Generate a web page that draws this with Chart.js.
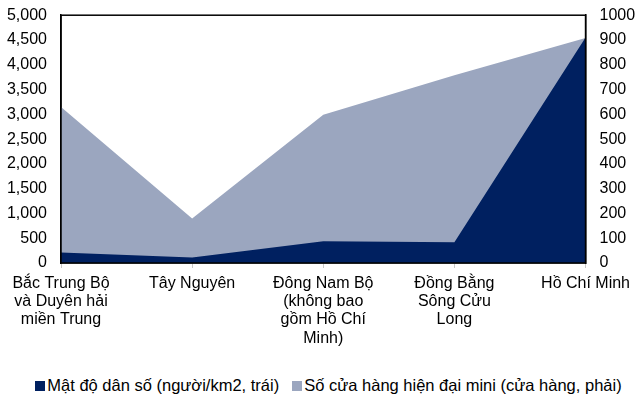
<!DOCTYPE html>
<html>
<head>
<meta charset="utf-8">
<script src="https://cdn.jsdelivr.net/npm/chart.js@4/dist/chart.umd.min.js"></script>
<style>
  html, body { margin: 0; padding: 0; background: #fff; }
  #wrap { width: 636px; height: 368px; position: relative; }
  #legend {
    width: 636px; height: 35px; box-sizing: border-box; padding-left: 21px;
    display: flex; justify-content: center; align-items: center;
    font-family: 'Liberation Sans', Arial, sans-serif; font-size: 16.5px; color: #000;
    white-space: nowrap;
  }
  #legend .item { display: flex; align-items: center; }
  #legend .item + .item { margin-left: 13px; }
  #legend .box { width: 10px; height: 10px; margin-right: 2px; }
</style>
</head>
<body>
<div id="wrap"><canvas id="myChart"></canvas></div>
<div id="legend"></div>
<script>
// Du lieu
const regions = [
  ["Bắc Trung Bộ", "và Duyên hải", "miền Trung"],
  "Tây Nguyên",
  ["Đông Nam Bộ", "(không bao", "gồm Hồ Chí", "Minh)"],
  ["Đồng Bằng", "Sông Cửu", "Long"],
  "Hồ Chí Minh"
];
const density = [210, 110, 440, 420, 4550];     // người/km2 (trục trái)
const miniStores = [630, 180, 598, 758, 908];   // cửa hàng (trục phải)
const leftTicks = [0, 500, 1000, 1500, 2000, 2500, 3000, 3500, 4000, 4500, 5000];
const rightTicks = [0, 100, 200, 300, 400, 500, 600, 700, 800, 900, 1000];

const font = { family: "'Liberation Sans', Arial, sans-serif", size: 16, lineHeight: 1.15 };

// Khung den quanh vung ve
const frame = {
  id: 'frame',
  afterDatasetsDraw(chart) {
    const a = chart.chartArea, c = chart.ctx;
    c.save();
    c.strokeStyle = '#000';
    c.lineWidth = 1.5;
    c.strokeRect(a.left, a.top, a.right - a.left, a.bottom - a.top);
    c.restore();
  }
};

let ctx = document.getElementById('myChart');

let myChart = new Chart(ctx, {
  type: 'line',
  data: {
    labels: regions,
    datasets: [{
      label: "Mật độ dân số (người/km2, trái)",
      data: density,
      yAxisID: 'y',
      backgroundColor: "#002060",
      borderColor: "#002060",
      borderWidth: 0,
      fill: 'origin',
      pointRadius: 0,
      tension: 0
    }, {
      label: "Số cửa hàng hiện đại mini (cửa hàng, phải)",
      data: miniStores,
      yAxisID: 'y1',
      backgroundColor: "#9BA6BF",
      borderColor: "#9BA6BF",
      borderWidth: 0,
      fill: 'origin',
      pointRadius: 0,
      tension: 0
    }]
  },
  options: {
    responsive: true,
    maintainAspectRatio: false,
    animation: false,
    layout: { autoPadding: false, padding: { top: 15, left: 0, right: 0, bottom: 0 } },
    plugins: {
      tooltip: { enabled: false },
      legend: { display: false }
    },
    scales: {
      x: {
        offset: false,
        grid: { display: true, drawOnChartArea: false, drawTicks: true, tickLength: 5, color: '#c8c8c8' },
        border: { color: '#000', width: 1.5 },
        ticks: { font: font, color: '#000', maxRotation: 0, autoSkip: false, padding: 6 },
        afterFit(s) { s.height = 105; }
      },
      y: {
        position: 'left',
        min: 0, max: 5000,
        afterBuildTicks(s) { s.ticks = leftTicks.map(v => ({ value: v })); },
        grid: { display: false },
        border: { color: '#000', width: 1.5 },
        ticks: {
          font: font, color: '#000', padding: 6,
          callback: v => v.toLocaleString('en-US')
        },
        afterFit(s) { s.width = 61; }
      },
      y1: {
        position: 'right',
        min: 0, max: 1000,
        afterBuildTicks(s) { s.ticks = rightTicks.map(v => ({ value: v })); },
        grid: { display: false },
        border: { color: '#000', width: 1.5 },
        ticks: { font: font, color: '#000', padding: 6, callback: v => String(v) },
        afterFit(s) { s.width = 50; }
      }
    }
  },
  plugins: [frame]
});

// Chu thich (HTML) lay tu cac dataset
const legend = document.getElementById('legend');
myChart.data.datasets.forEach(ds => {
  const item = document.createElement('span');
  item.className = 'item';
  const box = document.createElement('span');
  box.className = 'box';
  box.style.background = ds.backgroundColor;
  const txt = document.createElement('span');
  txt.textContent = ds.label;
  item.appendChild(box);
  item.appendChild(txt);
  legend.appendChild(item);
});
</script>
</body>
</html>
